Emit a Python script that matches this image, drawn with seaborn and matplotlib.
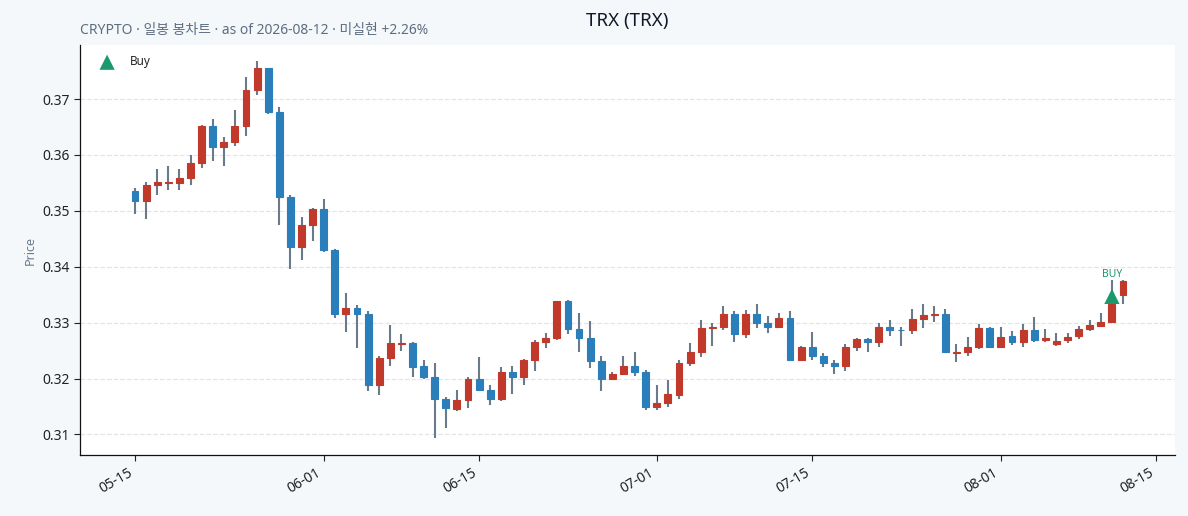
import pandas as pd
import numpy as np
import matplotlib.pyplot as plt
import matplotlib.dates as mdates
import seaborn as sns

# daily candles 05-15 .. 08-12
dates = pd.date_range("2026-05-15", "2026-08-12", freq="D")

opens = [0.3535, 0.3517, 0.3547, 0.3550, 0.3550, 0.3558, 0.3586, 0.3652, 0.3615, 0.3624,
         0.3651, 0.3717, 0.3755, 0.3677, 0.3525, 0.3435, 0.3475, 0.3504, 0.3430, 0.3315,
         0.3327, 0.3315, 0.3189, 0.3236, 0.3262, 0.3263, 0.3222, 0.3203, 0.3164, 0.3146,
         0.3162, 0.3200, 0.3180, 0.3164, 0.3211, 0.3202, 0.3234, 0.3265, 0.3273, 0.3338,
         0.3288, 0.3272, 0.3232, 0.3200, 0.3209, 0.3222, 0.3211, 0.3149, 0.3156, 0.3171,
         0.3227, 0.3248, 0.3290, 0.3293, 0.3315, 0.3279, 0.3315, 0.3300, 0.3292, 0.3309,
         0.3234, 0.3256, 0.3241, 0.3227, 0.3223, 0.3256, 0.3270, 0.3266, 0.3293, 0.3287,
         0.3286, 0.3306, 0.3313, 0.3316, 0.3246, 0.3247, 0.3256, 0.3290, 0.3257, 0.3276,
         0.3265, 0.3287, 0.3269, 0.3261, 0.3269, 0.3276, 0.3288, 0.3294, 0.3301, 0.3349]
highs = [0.3541, 0.3552, 0.3575, 0.3581, 0.3575, 0.3600, 0.3653, 0.3664, 0.3632, 0.3680,
         0.3739, 0.3768, 0.3756, 0.3685, 0.3529, 0.3489, 0.3505, 0.3522, 0.3432, 0.3353,
         0.3332, 0.3321, 0.3240, 0.3295, 0.3279, 0.3266, 0.3233, 0.3227, 0.3167, 0.3180,
         0.3202, 0.3238, 0.3189, 0.3221, 0.3223, 0.3235, 0.3269, 0.3281, 0.3339, 0.3341,
         0.3318, 0.3303, 0.3241, 0.3212, 0.3241, 0.3247, 0.3215, 0.3189, 0.3197, 0.3234,
         0.3263, 0.3304, 0.3300, 0.3329, 0.3321, 0.3323, 0.3333, 0.3312, 0.3318, 0.3320,
         0.3258, 0.3283, 0.3246, 0.3234, 0.3261, 0.3273, 0.3272, 0.3300, 0.3304, 0.3293,
         0.3324, 0.3333, 0.3329, 0.3325, 0.3261, 0.3275, 0.3297, 0.3293, 0.3293, 0.3285,
         0.3297, 0.3310, 0.3289, 0.3282, 0.3282, 0.3294, 0.3304, 0.3318, 0.3376, 0.3377]
lows = [0.3495, 0.3486, 0.3529, 0.3537, 0.3537, 0.3547, 0.3576, 0.3590, 0.3580, 0.3616,
        0.3634, 0.3708, 0.3673, 0.3474, 0.3396, 0.3413, 0.3447, 0.3427, 0.3309, 0.3284,
        0.3254, 0.3177, 0.3170, 0.3223, 0.3250, 0.3202, 0.3199, 0.3094, 0.3112, 0.3142,
        0.3148, 0.3178, 0.3152, 0.3159, 0.3172, 0.3189, 0.3213, 0.3254, 0.3269, 0.3279,
        0.3247, 0.3218, 0.3177, 0.3198, 0.3208, 0.3205, 0.3143, 0.3143, 0.3149, 0.3164,
        0.3223, 0.3238, 0.3258, 0.3287, 0.3265, 0.3273, 0.3290, 0.3282, 0.3290, 0.3233,
        0.3232, 0.3233, 0.3220, 0.3209, 0.3213, 0.3250, 0.3248, 0.3256, 0.3277, 0.3259,
        0.3279, 0.3291, 0.3302, 0.3246, 0.3229, 0.3241, 0.3252, 0.3256, 0.3256, 0.3260,
        0.3256, 0.3265, 0.3265, 0.3259, 0.3263, 0.3270, 0.3285, 0.3292, 0.3300, 0.3333]
closes = [0.3517, 0.3547, 0.3551, 0.3551, 0.3558, 0.3586, 0.3652, 0.3615, 0.3624, 0.3652,
          0.3717, 0.3755, 0.3677, 0.3525, 0.3435, 0.3475, 0.3504, 0.3430, 0.3315, 0.3327,
          0.3315, 0.3189, 0.3236, 0.3263, 0.3263, 0.3221, 0.3203, 0.3164, 0.3148, 0.3162,
          0.3200, 0.3180, 0.3164, 0.3211, 0.3202, 0.3234, 0.3265, 0.3273, 0.3338, 0.3288,
          0.3272, 0.3232, 0.3200, 0.3209, 0.3222, 0.3211, 0.3149, 0.3157, 0.3173, 0.3227,
          0.3248, 0.3290, 0.3293, 0.3315, 0.3279, 0.3315, 0.3300, 0.3293, 0.3309, 0.3234,
          0.3256, 0.3241, 0.3227, 0.3223, 0.3256, 0.3270, 0.3266, 0.3293, 0.3286, 0.3286,
          0.3306, 0.3313, 0.3316, 0.3247, 0.3247, 0.3256, 0.3290, 0.3257, 0.3275, 0.3265,
          0.3287, 0.3269, 0.3272, 0.3267, 0.3275, 0.3288, 0.3295, 0.3302, 0.3334, 0.3374]

buy_dates = pd.to_datetime(["2026-08-11"])
buy_prices = [0.3347]

UP = "#c0392b"
DOWN = "#2a7fba"
WICK = "#6b7a8b"
GREEN = "#1a9a6c"

sns.set_theme(style="white")
plt.rcParams['font.family'] = ['Noto Sans', 'Noto Sans CJK KR', 'DejaVu Sans']

df = pd.DataFrame({"date": dates, "open": opens, "high": highs, "low": lows, "close": closes})
df["up"] = df["close"] >= df["open"]
df["bottom"] = df[["open", "close"]].min(axis=1)
df["height"] = (df["close"] - df["open"]).abs().clip(lower=0.00006)
colors = np.where(df["up"], UP, DOWN)

fig = plt.figure(figsize=(11.88, 5.16), dpi=100, facecolor="#f5f8fb")
ax = fig.add_axes([0.0673, 0.118, 0.922, 0.795])
ax.set_facecolor("white")

ax.vlines(df["date"], df["low"], df["high"], color=WICK, lw=1.5, zorder=1)
ax.bar(df["date"], df["height"], bottom=df["bottom"], width=0.62,
       color=colors, edgecolor=colors, lw=0.8, zorder=2)

buy = pd.DataFrame({"date": buy_dates, "price": buy_prices})
sns.scatterplot(data=buy, x="date", y="price", marker="^", s=120, color=GREEN,
                edgecolor="none", label="Buy", ax=ax, zorder=3)
for d, p in zip(buy_dates, buy_prices):
    ax.annotate("BUY", (d, p), xytext=(0, 12), textcoords="offset points",
                ha="center", va="bottom", fontsize=7.5, color=GREEN)

ax.set_xlim(pd.Timestamp("2026-05-10 01:00"), pd.Timestamp("2026-08-16 17:00"))
ax.set_ylim(0.3063, 0.3797)
ax.yaxis.grid(True, linestyle="--", color="#e5e5e5", lw=0.9)
ax.xaxis.grid(False)
ax.set_axisbelow(True)

ax.xaxis.set_major_locator(mdates.DayLocator(bymonthday=[1, 15]))
ax.xaxis.set_major_formatter(mdates.DateFormatter("%m-%d"))
ax.yaxis.set_major_formatter(plt.FormatStrFormatter("%.2f"))
plt.setp(ax.get_xticklabels(), rotation=30, ha="right")
ax.tick_params(axis="both", labelsize=10, colors="#222222", length=4, width=0.8,
               bottom=True, left=True, direction="out")

for s in ["top", "right"]:
    ax.spines[s].set_visible(False)
for s in ["left", "bottom"]:
    ax.spines[s].set_color("#111111")
    ax.spines[s].set_linewidth(0.9)

ax.set_xlabel("")
ax.set_ylabel("Price", fontsize=9, color="#6b7b8c")

ax.legend(loc="upper left", frameon=False, fontsize=8.5, handletextpad=0.9,
          borderaxespad=0.9, bbox_to_anchor=(0.0, 1.012))

fig.text(0.528, 0.96, "TRX (TRX)", ha="center", va="center", fontsize=13.5,
         color="#111827", fontweight="bold")
fig.text(0.0673, 0.94, "CRYPTO · 일봉 봉차트 · as of 2026-08-12 · 미실현 +2.26%",
         ha="left", va="center", fontsize=10, color="#5d6d80")

fig.savefig("out.png", dpi=100, facecolor=fig.get_facecolor())
